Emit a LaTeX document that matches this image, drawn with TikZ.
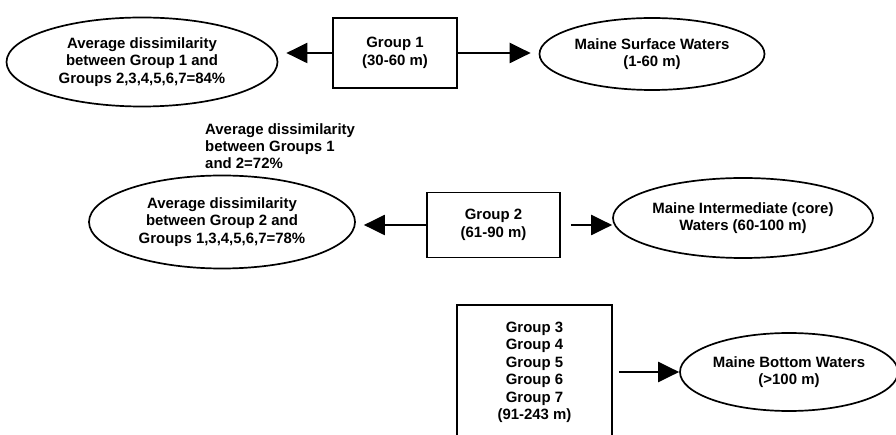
\documentclass[tikz,border=0pt]{standalone}
\usepackage{fontspec}
\setmainfont{Liberation Sans}
\usetikzlibrary{shapes.geometric,arrows.meta,calc}
\begin{document}
\begin{tikzpicture}[x=1bp,y=-1bp,
  txt/.style={font=\fontsize{15}{17.5}\selectfont\bfseries, align=center, inner sep=0pt},
  oval/.style={txt, ellipse, draw, line width=1.7bp},
  boxnode/.style={txt, rectangle, draw, line width=1.7bp},
  arr/.style={line width=2.2bp, -{Triangle[length=21bp,width=20bp]}}]
\useasboundingbox (0,0) rectangle (896,435);
\clip (0,0) rectangle (896,435);
\node[oval, minimum width=271bp, minimum height=89bp] (e1) at (142,62)
  {Average dissimilarity\\between Group 1 and\\Groups 2,3,4,5,6,7=84\%};
\node[boxnode, minimum width=124bp, minimum height=70bp] (b1) at (395,53)
  {Group 1\\(30-60 m)};
\node[oval, minimum width=225bp, minimum height=72bp] (e2) at (652,54)
  {Maine Surface Waters\\(1-60 m)};
\node[txt, anchor=north west, align=left] (lab) at (205,123)
  {Average dissimilarity\\between Groups 1\\and 2=72\%};
\node[oval, minimum width=266bp, minimum height=93bp] (e3) at (222,222)
  {Average dissimilarity\\between Group 2 and\\Groups 1,3,4,5,6,7=78\%};
\node[boxnode, minimum width=133bp, minimum height=65bp] (b2) at (493.5,225)
  {Group 2\\(61-90 m)};
\node[oval, minimum width=260bp, minimum height=80bp] (e4) at (743,218)
  {Maine Intermediate (core)\\Waters (60-100 m)};
\node[boxnode, anchor=north, minimum width=155bp, inner ysep=17bp] (b3) at (534.5,304)
  {Group 3\\Group 4\\Group 5\\Group 6\\Group 7\\(91-243 m)\rule[-14bp]{0pt}{0pt}};
\node[oval, minimum width=218bp, minimum height=78bp] (e5) at (789,372)
  {Maine Bottom Waters\\(>100 m)};
\draw[arr] (b1.west) -- ($(b1.west -| e1.east)+(8,0)$);
\draw[arr] (b1.east) -- ($(b1.east -| e2.west)+(-8,0)$);
\draw[arr] (b2.west) -- ($(b2.west -| e3.east)+(8,0)$);
\draw[arr] ($(b2.east)+(10,0)$) -- (b2.east -| e4.west);
\draw[arr] ($(b3.east |- e5.west)+(6,0)$) -- (e5.west);
\end{tikzpicture}
\end{document}
